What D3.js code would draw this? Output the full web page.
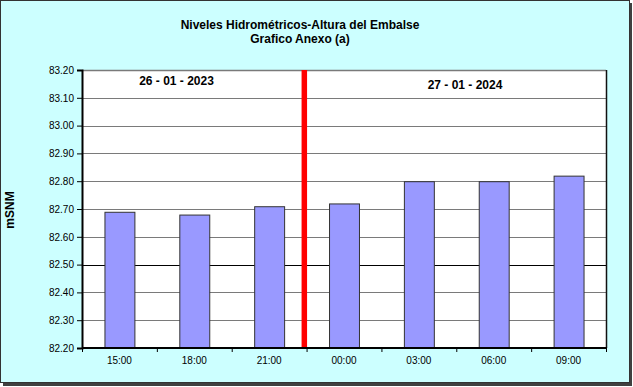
<!DOCTYPE html>
<html><head><meta charset="utf-8">
<script src="https://cdn.jsdelivr.net/npm/d3@7"></script>
<style>body{margin:0;background:#fff}svg{display:block}text{font-family:"Liberation Sans",Arial,sans-serif}</style>
</head><body>
<script>
const categories = ["15:00","18:00","21:00","00:00","03:00","06:00","09:00"];
const values = [82.69, 82.68, 82.71, 82.72, 82.80, 82.80, 82.82];
const yTicks = [82.20,82.30,82.40,82.50,82.60,82.70,82.80,82.90,83.00,83.10,83.20];
const titleLines = ["Niveles Hidrométricos-Altura del Embalse","Grafico Anexo (a)"];
const dateLabels = ["26 - 01 - 2023","27 - 01 - 2024"];
const yLabel = "mSNM";

const W=633,H=387;
const svg=d3.select("body").append("svg").attr("width",W).attr("height",H);
// shadow + frame
svg.append("rect").attr("x",3).attr("y",3).attr("width",629).attr("height",383).attr("fill","#404040");
svg.append("rect").attr("x",0.5).attr("y",0.5).attr("width",629).attr("height",382).attr("fill","#CCFFFF").attr("stroke","#333").attr("stroke-width",1);

const L=82,R=606,T=70,B=348;
const x=d3.scaleBand().domain(categories).range([L,R]).padding(0);
const y=d3.scaleLinear().domain([82.2,83.2]).range([B,T]);

svg.append("rect").attr("x",L).attr("y",T).attr("width",R-L).attr("height",B-T).attr("fill","#fff");

// gridlines
svg.append("g").selectAll("line").data(yTicks.slice(1)).join("line")
  .attr("x1",L).attr("x2",R)
  .attr("y1",d=>Math.round(y(d))+0.5).attr("y2",d=>Math.round(y(d))+0.5)
  .attr("stroke",d=>Math.abs(d-82.5)<1e-6?"#000":"#7a7a7a").attr("stroke-width",d=>Math.abs(d-83.2)<1e-6?1.5:1);

// bars
const bw=x.bandwidth()*0.4;
svg.append("g").selectAll("rect").data(values).join("rect")
  .attr("x",(d,i)=>x(categories[i])+x.bandwidth()/2-bw/2+0.5)
  .attr("y",d=>y(d)+0.5)
  .attr("width",bw).attr("height",d=>B-y(d))
  .attr("fill","#9999FF").attr("stroke","#333").attr("stroke-width",1);

// right border
svg.append("line").attr("x1",R+0.5).attr("x2",R+0.5).attr("y1",T).attr("y2",B).attr("stroke","#111").attr("stroke-width",1.5);

// red separator
const sep=x(categories[3]);
svg.append("rect").attr("x",sep-5).attr("y",T).attr("width",5.5).attr("height",B-T).attr("fill","#FF0000");

// y axis
const yAxis=d3.axisLeft(y).tickValues(yTicks).tickFormat(d3.format(".2f")).tickSize(5).tickPadding(3);
const gy=svg.append("g").attr("transform",`translate(${L},0)`).call(yAxis);
gy.select(".domain").attr("stroke","#000").attr("stroke-width",2);
gy.selectAll(".tick line").attr("stroke","#000");
gy.selectAll("text").attr("font-size",10).attr("fill","#000").attr("font-family","Liberation Sans, Arial");

// x axis
const gx=svg.append("g").attr("transform",`translate(0,${B})`);
gx.append("line").attr("x1",L).attr("x2",R+1).attr("y1",0).attr("y2",0).attr("stroke","#000").attr("stroke-width",2);
gx.selectAll("line.tk").data(categories.map((c,i)=>x(c)).concat([R])).join("line").attr("class","tk")
  .attr("x1",d=>d+0.5).attr("x2",d=>d+0.5).attr("y1",0).attr("y2",4).attr("stroke","#000");
gx.selectAll("text").data(categories).join("text")
  .attr("x",d=>x(d)+x.bandwidth()/2).attr("y",16).attr("text-anchor","middle")
  .attr("font-size",10).attr("fill","#000").text(d=>d);

// titles
svg.selectAll("text.title").data(titleLines).join("text").attr("class","title")
  .attr("x",300).attr("y",(d,i)=>29+i*14).attr("text-anchor","middle")
  .attr("font-size",12).attr("font-weight","bold").text(d=>d);

// date labels
svg.append("text").attr("x",176.5).attr("y",85).attr("text-anchor","middle").attr("font-size",12).attr("font-weight","bold").text(dateLabels[0]);
svg.append("text").attr("x",465).attr("y",89).attr("text-anchor","middle").attr("font-size",12).attr("font-weight","bold").text(dateLabels[1]);

// y label
svg.append("text").attr("transform","translate(14,210) rotate(-90)").attr("text-anchor","middle")
  .attr("font-size",12).attr("font-weight","bold").text(yLabel);
</script>
</body></html>
